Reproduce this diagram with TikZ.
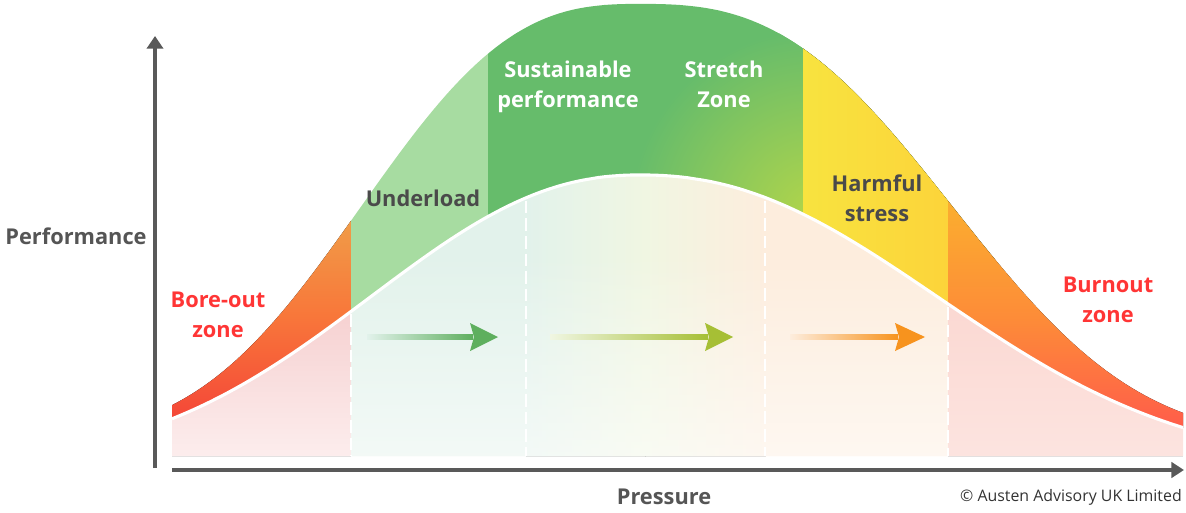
\documentclass[tikz,border=0pt]{standalone}
\usepackage{fontspec}
\setmainfont{Open Sans}
\usetikzlibrary{arrows.meta,fadings}
\definecolor{axisgray}{HTML}{595959}
\definecolor{labgray}{HTML}{555555}
\definecolor{darklab}{HTML}{4A4A4A}
\definecolor{redlab}{HTML}{FF3535}
\definecolor{boreRed}{HTML}{F44438}
\definecolor{boreMid}{HTML}{F8773A}
\definecolor{boreOr}{HTML}{EFA24A}
\definecolor{underG}{HTML}{A7DCA1}
\definecolor{sustG}{HTML}{66BC6B}
\definecolor{stretchY}{HTML}{B2D54A}
\definecolor{harmY}{HTML}{F8E33F}
\definecolor{harmY2}{HTML}{FCD43A}
\definecolor{burnOr}{HTML}{FBB02E}
\definecolor{burnMid}{HTML}{FD8C38}
\definecolor{burnRed}{HTML}{FF574C}
\definecolor{pinkL}{HTML}{F6CFCF}
\definecolor{pinkLb}{HTML}{FCEDED}
\definecolor{mint}{HTML}{E2F2EB}
\definecolor{midY}{HTML}{F0F6E2}
\definecolor{peach}{HTML}{FDEDDD}
\definecolor{pinkR}{HTML}{FBD8D2}
\definecolor{arrG}{HTML}{5EAF5E}
\definecolor{arrY}{HTML}{A6BF35}
\definecolor{arrYt}{HTML}{CDE6A8}
\definecolor{arrO}{HTML}{F7931E}
\definecolor{arrOt}{HTML}{FCCB62}
\tikzset{
  declare function={
    fo(\x)=440-436*exp(-pow((abs(\x-640)+0.01)/((\x<640)?332:372),2.7));
    fi(\x)=465-290*exp(-pow((abs(\x-640)+0.01)/((\x<640)?355:392),2.2));
  },
  lab/.style={font=\fontsize{15.5}{21.3}\selectfont\bfseries, align=center, inner sep=0pt},
  axisline/.style={draw=axisgray, line width=2.8pt},
  dashw/.style={draw=white, line width=1.5pt, dash pattern=on 9pt off 3.5pt},
}
\begin{document}
\begin{tikzpicture}[x=0.025cm,y=-0.025cm]
\useasboundingbox (0,0) rectangle (1186,513);
% lower region
\begin{scope}
  \clip plot[domain=172:1183, samples=160] (\x,{fi(\x)}) -- (1183,456) -- (172,456) -- cycle;
  \fill[top color=pinkL, bottom color=pinkLb] (172,300) rectangle (351,457);
  \fill[mint] (351,170) rectangle (527,457);
  \fill[left color=mint, right color=midY] (526,170) rectangle (646,457);
  \fill[left color=midY, right color=peach] (645,170) rectangle (766,457);
  \fill[peach] (765,170) rectangle (948,457);
  \fill[white, opacity=0.6, path fading=north] (351,250) rectangle (948,457);
  \fill[top color=pinkR, bottom color=pinkR!70!white] (948,300) rectangle (1183,457);
\end{scope}
% band
\begin{scope}
  \clip plot[domain=172:1183, samples=160] (\x,{fo(\x)}) -- plot[domain=1183:172, samples=160] (\x,{fi(\x)}) -- cycle;
  \fill[top color=boreOr, bottom color=boreRed, middle color=boreMid] (160,205) rectangle (351,425);
  \fill[underG] (351,0) rectangle (488,320);
  \fill[sustG] (488,0) rectangle (803,320);
  \shade[inner color=stretchY, outer color=sustG] (815,215) circle (185);
  \fill[left color=harmY, right color=harmY2] (803,0) rectangle (948,320);
  \fill[top color=burnOr, bottom color=burnRed, middle color=burnMid] (948,195) rectangle (1190,440);
\end{scope}
\draw[white, line width=2.2pt] plot[domain=172:1183, samples=160] (\x,{fi(\x)});
% dashed separators
\coordinate (d1t) at (351,{fi(351)+3}); \coordinate (d1b) at (351,456);
\coordinate (d2t) at (526,{fi(526)+3}); \coordinate (d2b) at (526,456);
\coordinate (d3t) at (765,{fi(765)+3}); \coordinate (d3b) at (765,456);
\coordinate (d4t) at (948,{fi(948)+3}); \coordinate (d4b) at (948,456);
\draw[dashw] (d1t) -- (d1b);
\draw[dashw] (d2t) -- (d2b);
\draw[dashw] (d3t) -- (d3b);
\draw[dashw] (d4t) -- (d4b);
% arrows
\fill[left color=mint, right color=arrG] (367,334.5) rectangle (473,339.5);
\fill[arrG] (470,323) -- (498,337) -- (470,351) -- (474,337) -- cycle;
\fill[left color=midY, middle color=arrYt, right color=arrY] (550,334.5) rectangle (708,339.5);
\fill[arrY] (705,323) -- (733,337) -- (705,351) -- (709,337) -- cycle;
\fill[left color=peach, middle color=arrOt, right color=arrO] (790,334.5) rectangle (898,339.5);
\fill[arrO] (895,323) -- (925,337) -- (895,351) -- (899,337) -- cycle;
% axes
\coordinate (yo) at (155,468); \coordinate (yt) at (155,36);
\coordinate (xo) at (172,470); \coordinate (xt) at (1184,470);
\draw[axisline, -{Triangle[width=11.5pt,length=9pt]}] (yo) -- (yt);
\draw[axisline, -{Triangle[width=11pt,length=9pt]}] (xo) -- (xt);
% labels
\node[lab, text=labgray] (perf) at (76,236) {Performance};
\node[lab, text=labgray] (press) at (664,497) {Pressure};
\node[lab, text=redlab] (bore) at (218,315) {Bore-out\\zone};
\node[lab, text=darklab] (under) at (423,198) {Underload};
\node[lab, text=white] (sust) at (568,87) {Sustainable\\performance};
\node[lab, text=white] (stretch) at (724,84) {Stretch\\Zone};
\node[lab, text=darklab] (harm) at (877,198) {Harmful\\stress};
\node[lab, text=redlab] (burn) at (1108,300) {Burnout\\zone};
\node[anchor=east, inner sep=0pt, text=black!80, font=\fontsize{11.3}{13}\selectfont] (copy) at (1182,497) {© Austen Advisory UK Limited};
\end{tikzpicture}
\end{document}
